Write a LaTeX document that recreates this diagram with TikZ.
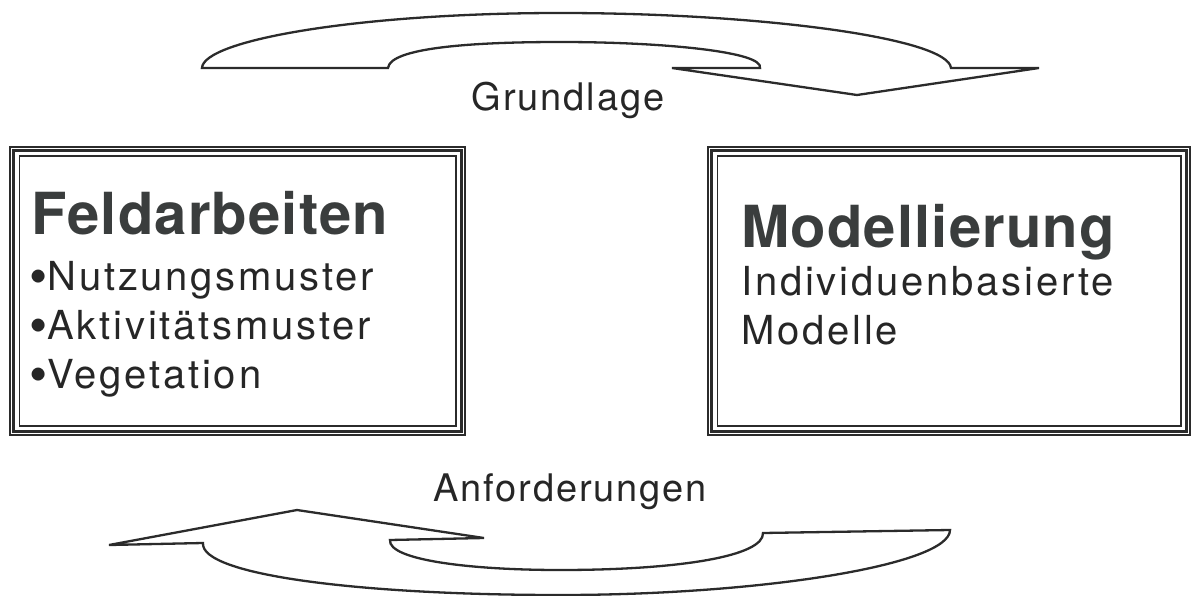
\documentclass[tikz,border=0pt]{standalone}
\usepackage{fontspec}
\setmainfont{TeX Gyre Heros}
\newfontfamily\regls[LetterSpace=7]{TeX Gyre Heros}
\newfontfamily\capls[LetterSpace=5]{TeX Gyre Heros}
\newfontfamily\boldls[LetterSpace=2]{TeX Gyre Heros}
\newcommand\bigbul{\raisebox{-0.1em}{\scalebox{1.3}{•}}}
\definecolor{ink}{HTML}{2B2B2B}
\definecolor{txt}{HTML}{262626}
\definecolor{btxt}{HTML}{3A3D3D}
\begin{document}
\begin{tikzpicture}[x=1pt,y=-1pt,
  frameouter/.style={draw=ink, line width=1.4pt, inner sep=0pt, outer sep=0pt},
  framemid/.style={draw=ink, line width=2.8pt},
  frameinner/.style={draw=ink, line width=1.4pt},
  boxtitle/.style={anchor=base west, inner sep=0pt, text=btxt, font=\boldls\bfseries\fontsize{58}{62}\selectfont},
  boxitem/.style={anchor=base west, inner sep=0pt, text=txt, font=\regls\fontsize{40}{46}\selectfont},
  arrowtext/.style={anchor=base, inner sep=0pt, text=txt, font=\capls\fontsize{38}{44}\selectfont},
  blockarrow/.style={draw=ink, line width=2.3pt, fill=white, line join=miter}
]
\useasboundingbox (0,0) rectangle (1193,596);

% boxes
\node[frameouter, minimum width=455pt, minimum height=288pt] (L) at (237.5,291) {};
\draw[framemid] ([shift={(3.6,3.4)}]L.north west) rectangle ([shift={(-3.6,-3.4)}]L.south east);
\draw[frameinner] ([shift={(9.2,9)}]L.north west) rectangle ([shift={(-9.2,-9)}]L.south east);

\node[frameouter, minimum width=482pt, minimum height=288pt] (R) at (949,291) {};
\draw[framemid] ([shift={(3.6,3.4)}]R.north west) rectangle ([shift={(-3.6,-3.4)}]R.south east);
\draw[frameinner] ([shift={(9.2,9)}]R.north west) rectangle ([shift={(-9.2,-9)}]R.south east);

% texts
\node[boxtitle] (ft) at (31,234) {Feldarbeiten};
\node[boxitem] (f1) at (29,290) {\bigbul Nutzungsmuster};
\node[boxitem] (f2) at (29,339) {\bigbul Aktivitätsmuster};
\node[boxitem] (f3) at (29,388) {\bigbul Vegetation};

\node[boxtitle] (mt) at (741,247) {Modellierung};
\node[boxitem] (m1) at (741,295) {Individuenbasierte};
\node[boxitem] (m2) at (741,344) {Modelle};

% top arrow
\draw[blockarrow] (202,68) -- (388,68)
  .. controls (390,48) and (470,42) .. (560,42)
  .. controls (665,42) and (764,52) .. (760,68)
  -- (672,68) -- (857,95) -- (1039,68) -- (951,68)
  .. controls (948,38) and (760,13) .. (560,13)
  .. controls (360,13) and (203,40) .. cycle;
\node[arrowtext] (g) at (568,111) {Grundlage};

% bottom arrow
\draw[blockarrow] (109,545) -- (297,510) -- (484,538) -- (390,540)
  .. controls (388,560) and (470,570) .. (560,570)
  .. controls (680,570) and (764,556) .. (763,533)
  -- (950,530)
  .. controls (950,565) and (760,595) .. (560,595)
  .. controls (360,595) and (200,575) .. (203,543) -- cycle;
\node[arrowtext] (a) at (570,501) {Anforderungen};
\end{tikzpicture}
\end{document}
